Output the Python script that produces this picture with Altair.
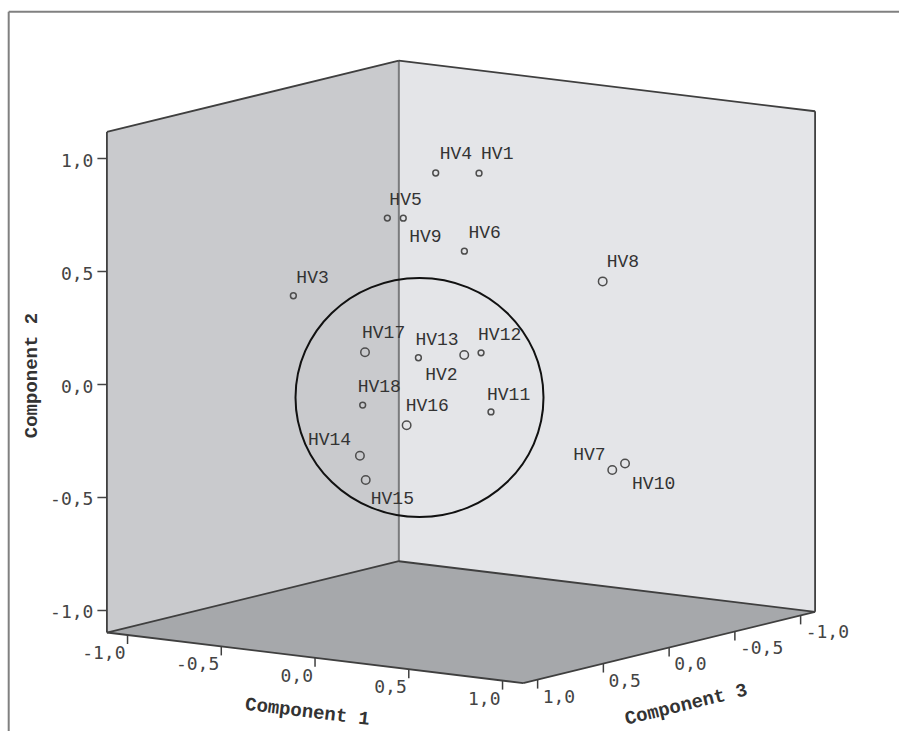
import altair as alt
import numpy as np
import pandas as pd

# ---- Component loadings of the 18 variables ----
names = ["HV1", "HV2", "HV3", "HV4", "HV5", "HV6", "HV7", "HV8", "HV9",
         "HV10", "HV11", "HV12", "HV13", "HV14", "HV15", "HV16", "HV17", "HV18"]
comp1 = [-0.009, 0.403, -0.859, -0.205, -0.463, 0.018, 0.947, 0.931, -0.343,
         0.980, 0.230, 0.142, -0.157, 0.022, 0.088, 0.201, 0.014, -0.349]
comp2 = [0.867, 0.202, 0.266, 0.855, 0.629, 0.545, -0.303, 0.539, 0.648,
         -0.278, -0.132, 0.114, 0.069, -0.248, -0.342, -0.109, 0.203, -0.139]
comp3 = [-0.15, 0.55, 0.05, -0.10, -0.10, 0.00, 0.20, 0.25, -0.05,
         0.15, 0.10, 0.05, 0.10, 0.80, 0.85, 0.70, 0.75, 0.25]

tick_values = [-1.0, -0.5, 0.0, 0.5, 1.0]

# label placement (pixels from the marker to the label's left edge / vertical centre)
label_dx = [2, -39, 3, 4, 2, 4, -39, 4, 6, 7, -4, -3, -3, -52, 5, -1, -3, -5]
label_dy = [-19, 20, -18, -19, -18, -18, -15, -19, 19, 20, -17, -18, -18, -16, 19, -19, -19, -18]

# ---- oblique projection of the cube ----
SX1, SX3 = 187.5, 131.5      # horizontal px per unit of component 1 / 3
SY1, SY3 = 22.8, 32.1        # vertical drop per unit of component 1 / 3
SY2 = 225.5                  # px per unit of component 2
BOX = 1.11                   # half-extent of the box for components 1 and 3
C2_LO, C2_HI = -1.102, 1.118

PAD_L, PAD_T, W, H = 8, 11, 891, 720
X_ZERO, Y_ZERO = 453.0, 373.0   # plot position of u = 0 / v = 0


def proj(c1, c2, c3):
    c1, c2, c3 = np.asarray(c1, float), np.asarray(c2, float), np.asarray(c3, float)
    u = c1 - (SX3 / SX1) * c3
    v = c2 - (SY1 * (c1 + BOX) + SY3 * (c3 - BOX)) / SY2
    return u, v


xs = alt.Scale(domain=[-X_ZERO / SX1, (W - X_ZERO) / SX1], nice=False, zero=False)
ys = alt.Scale(domain=[(Y_ZERO - H) / SY2, Y_ZERO / SY2], nice=False, zero=False)

y_axis = alt.Axis(
    values=tick_values,
    labelExpr="replace(replace(format(datum.value, '.1f'), '.', ','), '\u2212', '-')",
    offset=-(106.9 - PAD_L),
    domain=False, grid=False,
    tickSize=10, tickColor="#444", tickWidth=1.5,
    labelFont="DejaVu Sans Mono", labelFontSize=18, labelColor="#444",
    labelPadding=4, labelOffset=3,
    title="Component 2", titleFont="Liberation Mono", titleFontSize=19,
    titleFontWeight="bold", titleColor="#333", titleAngle=270,
    titleX=-76, titleY=364, titleAlign="center", titleBaseline="middle",
)


def X(field="u"):
    return alt.X(f"{field}:Q", scale=xs, axis=None)


def Y(field="v"):
    return alt.Y(f"{field}:Q", scale=ys, axis=y_axis)


L = BOX
lo, hi = C2_LO, C2_HI

# ---- walls and floor ----
def wall(p_a, p_b):
    ua, va_top = proj(p_a[0], hi, p_a[1])
    _, va_bot = proj(p_a[0], lo, p_a[1])
    ub, vb_top = proj(p_b[0], hi, p_b[1])
    _, vb_bot = proj(p_b[0], lo, p_b[1])
    return pd.DataFrame({"u": [float(ua), float(ub)],
                         "v": [float(va_top), float(vb_top)],
                         "v2": [float(va_bot), float(vb_bot)]})


left_wall = wall((-L, L), (-L, -L))
right_wall = wall((-L, -L), (L, -L))

fl = [proj(-L, lo, L), proj(-L, lo, -L), proj(L, lo, -L), proj(L, lo, L)]
f_left, f_back, f_right, f_front = [(float(a), float(b)) for a, b in fl]
upper = [f_left, f_back, f_right]
lower = [f_left, f_front, f_right]
fu = sorted({f_left[0], f_back[0], f_right[0], f_front[0]})
floor = pd.DataFrame({
    "u": fu,
    "v": np.interp(fu, [p[0] for p in upper], [p[1] for p in upper]),
    "v2": np.interp(fu, [p[0] for p in lower], [p[1] for p in lower]),
})


def area(df, color):
    return alt.Chart(df).mark_area(color=color, opacity=1, interpolate="linear").encode(
        x=X(), y=Y(), y2="v2:Q")


# ---- box edges ----
def edges(seg_list):
    rows = []
    for a, b in seg_list:
        ua, va = proj(*a)
        ub, vb = proj(*b)
        rows.append({"u": float(ua), "v": float(va), "u2": float(ub), "v2": float(vb)})
    return pd.DataFrame(rows)


dark_edges = edges([
    ((-L, lo, L), (-L, hi, L)),
    ((-L, hi, L), (-L, hi, -L)),
    ((-L, hi, -L), (L, hi, -L)),
    ((L, hi, -L), (L, lo, -L)),
    ((-L, lo, L), (-L, lo, -L)),
    ((-L, lo, -L), (L, lo, -L)),
    ((-L, lo, L), (L, lo, L)),
    ((L, lo, L), (L, lo, -L)),
])
back_edge = edges([((-L, lo, -L), (-L, hi, -L))])

# ---- floor axes: ticks and labels ----
TICK_LEN = 9 / SY2
c1_ticks = edges([((t, lo, L), (t, lo - TICK_LEN, L)) for t in tick_values])
c3_ticks = edges([((L, lo, t), (L, lo - TICK_LEN, t)) for t in tick_values])
tick_text = [f"{t:.1f}".replace(".", ",") for t in tick_values]
u1, v1 = proj(tick_values, [lo] * 5, [L] * 5)
c1_lab = pd.DataFrame({"u": u1, "v": v1, "t": tick_text})
u3, v3 = proj([L] * 5, [lo] * 5, tick_values)
c3_lab = pd.DataFrame({"u": u3, "v": v3, "t": tick_text})

tu1, tv1 = proj(0.0, lo, L)
title1 = pd.DataFrame({"u": [float(tu1)], "v": [float(tv1)], "t": ["Component 1"]})
tu3, tv3 = proj(L, lo, 0.0)
title3 = pd.DataFrame({"u": [float(tu3)], "v": [float(tv3)], "t": ["Component 3"]})

# ---- points ----
pu, pv = proj(comp1, comp2, comp3)
depth = (SX3 * np.array(comp1) + SX1 * np.array(comp3)) / np.hypot(SX1, SX3)
pts = pd.DataFrame({
    "name": names, "u": pu, "v": pv, "depth": depth,
    "lu": pu + np.array(label_dx) / SX1,
    "lv": pv - np.array(label_dy) / SY2,
})

# ---- hand-drawn ring around the central cluster ----
ring = pd.DataFrame({"u": [(419.5 - PAD_L - X_ZERO) / SX1],
                     "v": [(Y_ZERO - (397.5 - PAD_T)) / SY2]})
RING_PATH = "M-1,0A1,0.964,0,1,1,1,0A1,0.964,0,1,1,-1,0Z"

EDGE = "#3f3f3f"
layers = [
    # outer frame
    alt.Chart(pd.DataFrame({"k": [0]})).mark_rule(color="#808080", strokeWidth=2).encode(
        x=alt.value(0.7), x2=alt.value(W), y=alt.value(0.8)),
    alt.Chart(pd.DataFrame({"k": [0]})).mark_rule(color="#808080", strokeWidth=2).encode(
        x=alt.value(0.7), y=alt.value(0.8), y2=alt.value(H)),
    area(left_wall, "#c9cacd"),
    area(right_wall, "#e4e5e8"),
    area(floor, "#a6a8ab"),
    alt.Chart(back_edge).mark_rule(color="#7a7b7d", strokeWidth=2).encode(
        x=X(), y=Y(), x2="u2:Q", y2="v2:Q"),
    alt.Chart(dark_edges).mark_rule(color=EDGE, strokeWidth=1.8).encode(
        x=X(), y=Y(), x2="u2:Q", y2="v2:Q"),
    alt.Chart(c1_ticks).mark_rule(color=EDGE, strokeWidth=1.5).encode(
        x=X(), y=Y(), x2="u2:Q", y2="v2:Q"),
    alt.Chart(c3_ticks).mark_rule(color=EDGE, strokeWidth=1.5).encode(
        x=X(), y=Y(), x2="u2:Q", y2="v2:Q"),
    alt.Chart(c1_lab).mark_text(align="right", baseline="middle", dx=-2, dy=19,
                                font="DejaVu Sans Mono", fontSize=18, color="#444").encode(
        x=X(), y=Y(), text="t:N"),
    alt.Chart(c3_lab).mark_text(align="left", baseline="middle", dx=5, dy=18,
                                font="DejaVu Sans Mono", fontSize=18, color="#444").encode(
        x=X(), y=Y(), text="t:N"),
    alt.Chart(title1).mark_text(align="center", baseline="middle", angle=6.9, dx=-1, dy=54,
                                font="Liberation Mono", fontSize=19, fontWeight="bold",
                                color="#333").encode(x=X(), y=Y(), text="t:N"),
    alt.Chart(title3).mark_text(align="center", baseline="middle", angle=346.3, dx=3, dy=59,
                                font="Liberation Mono", fontSize=19, fontWeight="bold",
                                color="#333").encode(x=X(), y=Y(), text="t:N"),
    alt.Chart(pts).mark_point(shape="circle", filled=False, color="#4d4d4d", strokeWidth=1.5,
                              opacity=1).encode(
        x=X(), y=Y(),
        size=alt.Size("depth:Q", scale=alt.Scale(type="threshold", domain=[0.4], range=[34, 72]),
                      legend=None)),
    alt.Chart(pts).mark_text(align="left", baseline="middle", font="Liberation Mono",
                             fontSize=18, color="#333").encode(
        x=X("lu"), y=Y("lv"), text="name:N"),
    alt.Chart(ring).mark_point(shape=RING_PATH, filled=False, color="#111", strokeWidth=2,
                               opacity=1, size=248 ** 2).encode(x=X(), y=Y()),
]

chart = alt.layer(*layers).properties(
    width=W, height=H,
    padding={"left": PAD_L, "top": PAD_T, "right": 0, "bottom": 0},
    autosize=alt.AutoSizeParams(type="none"),
    background="white",
).configure_view(stroke=None)

chart.save("out.html", embed_options={"renderer": "svg", "actions": False})
